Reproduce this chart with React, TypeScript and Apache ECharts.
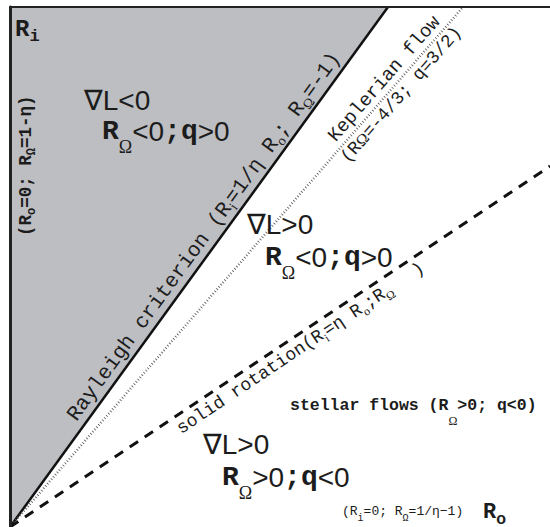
import React, { useEffect, useRef } from "react";
import * as echarts from "echarts";

// Normalised plane: x = R_o (0..1), y = R_i (0..1)
const rayleighLine = [
  [0, 0],
  [0.7, 1],
];
const keplerLine = [
  [0, 0],
  [0.839, 1],
];
const solidLine = [
  [0, 0],
  [1, 0.694],
];

const INK = "#1c1c1c";
const GRAY = "#bdbec2";
const MONO = "'Liberation Mono', 'DejaVu Sans Mono', monospace";
const SANS = "'Liberation Sans', 'DejaVu Sans', sans-serif";
const SERIF = "'Liberation Serif', 'DejaVu Serif', serif";

type Tok = { [k: string]: any };

function sub(main: number, subSize: number, offset: number, family = SERIF, weight: any = "normal"): Tok {
  return {
    fontFamily: family,
    fontSize: subSize,
    fontWeight: weight,
    fill: INK,
    verticalAlign: "bottom",
    lineHeight: main / 2 + offset + subSize / 2,
  };
}
function mainTok(size: number, family = MONO, weight: any = "bold"): Tok {
  return { fontFamily: family, fontSize: size, fontWeight: weight, fill: INK, verticalAlign: "top" };
}

function richText(x: number, y: number, text: string, rich: Tok, rotation = 0, extra: Tok = {}) {
  return {
    type: "text",
    x,
    y,
    rotation,
    z: 100,
    style: {
      text,
      rich,
      fill: INK,
      align: "left",
      verticalAlign: "top",
      ...extra,
    },
  };
}

function plainText(x: number, y: number, text: string, size: number, family: string, weight: any = "normal", rotation = 0, va = "middle") {
  return {
    type: "text",
    x,
    y,
    rotation,
    z: 100,
    style: {
      text,
      fill: INK,
      fontSize: size,
      fontFamily: family,
      fontWeight: weight,
      align: "left",
      verticalAlign: va,
    },
  };
}

const blockRich = (): Tok => ({
  m: mainTok(28, MONO, "bold"),
  a: mainTok(28, SANS, "normal"),
  s: sub(28, 18, 16, SERIF, "normal"),
});

// geometry helpers for labels written along the three lines (pixel frame)
const O = [10, 527];
function along(angle: number, d: number, perp: number) {
  const ux = Math.cos(angle), uy = -Math.sin(angle);
  const nx = -Math.sin(angle), ny = -Math.cos(angle);
  return [O[0] + d * ux + perp * nx, O[1] + d * uy + perp * ny];
}
const aRay = Math.atan2(520, 378);
const aKep = Math.atan2(520, 453);
const aSol = Math.atan2(361, 540);

const pRay = along(aRay, 124, 24);
const pKep1 = along(aKep, 504, 21.5);
const pKep2 = along(aKep, 496, -2);
const pSol = along(aSol, 194, -4);
const pSolEnd = along(aSol, 477, -4);

const graphics = [
  // R_i corner label
  richText(15, 17.5, "{m|R}{s|i}", { m: mainTok(24), s: sub(24, 17, 7, MONO, "bold") }),
  // R_o corner label
  richText(483, 501.5, "{m|R}{s|o}", { m: mainTok(22), s: sub(22, 16, 6, SANS, "bold") }),
  // region 1
  plainText(84, 100, "∇L<0", 28, SANS),
  richText(102, 117, "{m|R}{s|Ω}{a|<0}{m|;q}{a|>0}", blockRich()),
  // region 2
  plainText(247, 224, "∇L>0", 28, SANS),
  richText(265, 243, "{m|R}{s|Ω}{a|<0}{m|;q}{a|>0}", blockRich()),
  // region 3
  plainText(203, 444, "∇L>0", 28, SANS),
  richText(222, 463, "{m|R}{s|Ω}{a|>0}{m|;q}{a|<0}", blockRich()),
  // stellar flows
  richText(290, 396.75, "{m|stellar flows (R}{s|Ω}{m|>0; q<0)}", {
    m: mainTok(16.5, MONO, "bold"),
    s: sub(16.5, 12, 16, SERIF, "normal"),
  }),
  // bottom axis note
  richText(342, 504.5, "{m|(R}{s|i}{m|=0; R}{s|Ω}{m|=1/η−1)}", {
    m: mainTok(13, MONO, "normal"),
    s: sub(13, 10, 7, MONO, "normal"),
  }),
  // left vertical note
  richText(16.5, 236, "{m|(R}{s|o}{m|=0; R}{s|Ω}{m|=1-η)}", {
    m: mainTok(17.5, MONO, "bold"),
    s: sub(17.5, 12, 7, MONO, "bold"),
  }, Math.PI / 2),
  // Rayleigh criterion along the solid line
  richText(pRay[0], pRay[1], "{m|Rayleigh criterion (R}{s|i}{m|=1/η R}{s|o}{m|; R}{s|Ω}{m|=-1)}", {
    m: mainTok(21, MONO, "normal"),
    s: sub(21, 14, 6, SERIF, "normal"),
  }, aRay),
  // Keplerian flow along the dotted line
  plainText(pKep1[0], pKep1[1], "Keplerian flow", 19, MONO, "normal", aKep, "top"),
  richText(pKep2[0], pKep2[1], "{m|(R}{g|Ω}{m|=-4/3; q=3/2)}", {
    m: { fontFamily: MONO, fontSize: 18, fill: INK },
    g: { fontFamily: SERIF, fontSize: 16, fill: INK },
  }, aKep),
  // solid rotation along the dashed line
  richText(pSol[0], pSol[1], "{m|solid rotation(R}{s|i}{m|=η R}{s|o}{m|;R}{s|Ω}", {
    m: mainTok(18, MONO, "normal"),
    s: sub(18, 12, 6, SERIF, "normal"),
  }, aSol),
  plainText(pSolEnd[0], pSolEnd[1], ")", 18, MONO, "normal", aSol, "top"),
];

const option: any = {
  animation: false,
  backgroundColor: "#ffffff",
  grid: { left: 10, top: 7, right: 0, bottom: 0, containLabel: false },
  xAxis: {
    type: "value",
    min: 0,
    max: 1,
    position: "top",
    z: 10,
    axisLine: { show: true, onZero: false, lineStyle: { color: "#222", width: 2 } },
    axisTick: { show: false },
    axisLabel: { show: false },
    splitLine: { show: false },
  },
  yAxis: {
    type: "value",
    min: 0,
    max: 1,
    z: 10,
    axisLine: { show: true, onZero: false, lineStyle: { color: "#222", width: 3 } },
    axisTick: { show: false },
    axisLabel: { show: false },
    splitLine: { show: false },
  },
  series: [
    {
      type: "line",
      name: "Rayleigh",
      data: rayleighLine,
      symbol: "none",
      z: 3,
      lineStyle: { color: "#111", width: 2.5 },
      areaStyle: { origin: "end", color: GRAY, opacity: 1 },
    },
    {
      type: "line",
      name: "Keplerian",
      data: keplerLine,
      symbol: "none",
      z: 4,
      lineStyle: { color: "#555", width: 2.5, type: [0.8, 2.2], cap: "butt" },
    },
    {
      type: "line",
      name: "Solid rotation",
      data: solidLine,
      symbol: "none",
      z: 4,
      lineStyle: { color: "#111", width: 3, type: [10, 8], cap: "butt" },
    },
  ],
  graphic: graphics,
};

export default function App() {
  const ref = useRef<HTMLDivElement>(null);
  useEffect(() => {
    const chart = echarts.init(ref.current!, null, { renderer: "svg" });
    chart.setOption(option);
    return () => chart.dispose();
  }, []);
  return (
    <div
      ref={ref}
      style={{ position: "absolute", left: 0, top: 0, width: 550, height: 527 }}
    />
  );
}
